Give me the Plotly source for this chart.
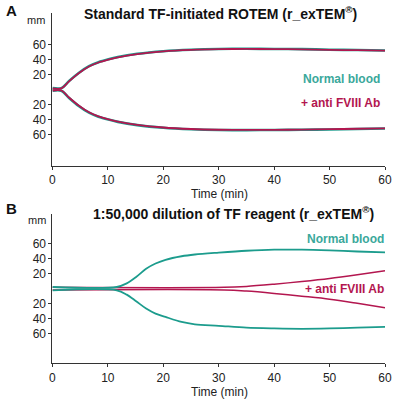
import plotly.graph_objects as go

TEAL = "#1c9c8d"
TEAL_TXT = "#3aa89b"
CRIM = "#b3164f"

# Panel A: standard TF-initiated
a_t = [0, 1.6, 3.0, 4.8, 6.6, 8.3, 10.1, 11.8, 15.3, 20, 25, 30, 35, 40, 45, 50, 55, 60]
a_normal_up = [1.8, 1.8, 11.3, 22.3, 31, 36.3, 40.2, 43.2, 47.5, 51, 53, 54, 54.2, 54, 53.7, 53, 52.5, 52]
a_normal_lo = [-1.8, -1.8, -11.3, -22.3, -31, -36.3, -40.2, -43.2, -47.5, -51, -53, -54, -54.2, -54, -53.8, -53.3, -52.7, -52]
a_fviii_up = [1.4, 1.4, 10.8, 21.8, 30.5, 35.9, 39.8, 42.8, 47.1, 50.7, 52.7, 53.7, 54, 53.8, 53.5, 52.8, 52.3, 51.8]
a_fviii_lo = [-1.4, -1.4, -10.8, -21.8, -30.5, -35.9, -39.8, -42.8, -47.1, -50.7, -52.7, -53.7, -54, -53.8, -53.6, -53, -52.4, -51.8]

# Panel B: 1:50,000 dilution of TF reagent
b_t_n = [0, 11.6, 13.4, 15.1, 16.9, 18.6, 20.4, 23.3, 25.7, 30, 35, 40, 45, 50, 55, 60]
b_normal_up = [2.2, 2.2, 7, 15.6, 26.5, 33.5, 38.5, 43.2, 45.5, 48, 50.5, 52, 52, 51, 49.5, 48.3]
b_normal_lo = [-2.2, -2.2, -8, -16.8, -26.5, -33.2, -37.7, -44.4, -47.5, -49.5, -52, -53, -53.5, -53, -52, -51]
b_t_f = [0, 31, 35, 40, 45, 50, 55, 60]
b_fviii_up = [1.7, 1.7, 3, 6, 9.5, 13.5, 18.5, 24]
b_fviii_lo = [-1.7, -1.7, -3.2, -6.3, -10, -14, -19.5, -25.5]

x_ticks = [0, 10, 20, 30, 40, 50, 60]
y_ticks = [-60, -40, -20, 20, 40, 60]
y_tick_text = ["60", "40", "20", "20", "40", "60"]

fig = go.Figure()

def line(x, y, color, w, xa, ya):
    fig.add_trace(go.Scatter(x=x, y=y, mode="lines", xaxis=xa, yaxis=ya,
                             line=dict(color=color, width=w, shape="spline", smoothing=0.9),
                             showlegend=False, hoverinfo="skip"))

# Panel A: teal beneath crimson
line(a_t, a_normal_up, TEAL, 2.6, "x", "y")
line(a_t, a_normal_lo, TEAL, 2.6, "x", "y")
line(a_t, a_fviii_up, CRIM, 1.8, "x", "y")
line(a_t, a_fviii_lo, CRIM, 1.8, "x", "y")

# Panel B: crimson beneath teal
line(b_t_f, b_fviii_up, CRIM, 1.5, "x2", "y2")
line(b_t_f, b_fviii_lo, CRIM, 1.5, "x2", "y2")
line(b_t_n, b_normal_up, TEAL, 1.8, "x2", "y2")
line(b_t_n, b_normal_lo, TEAL, 1.8, "x2", "y2")

FONT = "Liberation Sans, Arial, sans-serif"
axis_common = dict(showgrid=False, zeroline=False, showline=True, linecolor="#333333",
                   linewidth=1, ticks="outside", ticklen=3, tickcolor="#333333",
                   tickfont=dict(family=FONT, size=12, color="#222222"))

xd = [50.7 / 400, 391.8 / 400]
fig.update_layout(
    width=400, height=399, margin=dict(l=0, r=0, t=0, b=0),
    paper_bgcolor="white", plot_bgcolor="white",
    xaxis=dict(domain=xd, range=[0, 60], tickvals=x_ticks, anchor="y", **axis_common),
    yaxis=dict(domain=[1 - 165.6 / 399, 1 - 13.3 / 399], range=[-101.5, 101.5],
               tickvals=y_ticks, ticktext=y_tick_text, anchor="x", **axis_common),
    xaxis2=dict(domain=xd, range=[0, 60], tickvals=x_ticks, anchor="y2", **axis_common),
    yaxis2=dict(domain=[1 - 363.3 / 399, 1 - 214 / 399], range=[-99.5, 99.5],
                tickvals=y_ticks, ticktext=y_tick_text, anchor="x2", **axis_common),
)

def txt(x, y, text, size, color="#111111", bold=False, xanchor="center"):
    t = f"<b>{text}</b>" if bold else text
    fig.add_annotation(x=x / 400, y=1 - y / 399, xref="paper", yref="paper", text=t,
                       showarrow=False, xanchor=xanchor, yanchor="middle",
                       font=dict(family=FONT, size=size, color=color))

txt(1, 10, "A", 15, bold=True, xanchor="left")
txt(1, 208, "B", 15, bold=True, xanchor="left")
txt(223, 13, "Standard TF-initiated ROTEM (r_exTEM<sup>®</sup>)", 14, bold=True)
txt(236, 213, "1:50,000 dilution of TF reagent (r_exTEM<sup>®</sup>)", 14, bold=True)
txt(34, 20.5, "mm", 11, color="#222222")
txt(35, 220, "mm", 11, color="#222222")
txt(222, 193.5, "Time (min)", 12, color="#222222")
txt(222, 391.5, "Time (min)", 12, color="#222222")
txt(389, 79, "Normal blood", 12, color=TEAL_TXT, bold=True, xanchor="right")
txt(389, 102.7, "+ anti FVIII Ab", 12, color=CRIM, bold=True, xanchor="right")
txt(392.7, 238.7, "Normal blood", 12, color=TEAL_TXT, bold=True, xanchor="right")
txt(392.7, 289.3, "+ anti FVIII Ab", 12, color=CRIM, bold=True, xanchor="right")

fig.write_html("out.html")
